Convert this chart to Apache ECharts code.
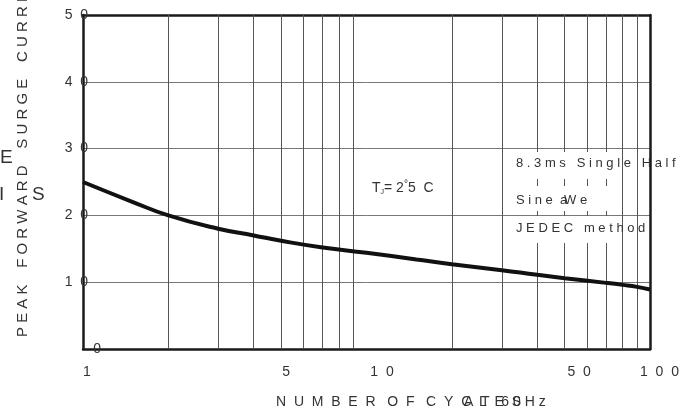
<!DOCTYPE html>
<html>
<head>
<meta charset="utf-8">
<script src="https://cdn.jsdelivr.net/npm/echarts@6/dist/echarts.min.js"></script>
<style>html,body{margin:0;padding:0;background:#fff}#c{width:690px;height:414px}</style>
</head>
<body>
<div id="c"></div>
<script>
// Data
const cycles = [1, 1.5, 2, 3, 4, 5, 7, 10, 15, 20, 30, 40, 50, 70, 80, 90, 100];
const current = [25, 22, 20, 18, 17, 16.2, 15.2, 14.4, 13.4, 12.7, 11.8, 11.1, 10.6, 9.9, 9.6, 9.3, 8.9];
const xTickLabels = [1, 5, 10, 50, 100];
const yTickLabels = [0, 10, 20, 30, 40, 50];
const xGridValues = [2, 3, 4, 5, 6, 7, 8, 9, 20, 30, 40, 50, 60, 70, 80, 90];

// letter-spaced text helper (styling only)
const spaced = v => String(v).split('').join('  ');
const FONT = '"Liberation Sans", Arial, sans-serif';
const TXT = '#333';
// per-label horizontal nudge (styling) for x tick labels
const xLabelPad = {1: 8, 5: 10, 10: 31, 50: 29, 100: 19};
const xRich = {};
xTickLabels.forEach(v => {
  xRich['p' + v] = {color: TXT, fontSize: 14, fontFamily: FONT, padding: [0, 0, 0, xLabelPad[v]]};
});

const chart = echarts.init(document.getElementById('c'), null, {renderer: 'canvas'});
chart.setOption({
  animation: false,
  backgroundColor: '#fff',
  grid: {left: 83, right: 40, top: 15, bottom: 65},
  xAxis: [{
    type: 'log', logBase: 10, min: 1, max: 100,
    axisLine: {show: true, lineStyle: {color: '#1a1a1a', width: 2.5}},
    axisTick: {show: false},
    splitLine: {show: false},
    minorTick: {show: false},
    axisLabel: {
      customValues: xTickLabels,
      formatter: v => '{p' + v + '|' + spaced(v) + '}',
      rich: xRich,
      color: TXT, fontSize: 14, fontFamily: FONT, margin: 16
    }
  }, {
    type: 'log', logBase: 10, min: 1, max: 100, position: 'top',
    axisLine: {show: true, onZero: false, lineStyle: {color: '#1a1a1a', width: 2.5}},
    axisTick: {show: false}, axisLabel: {show: false}, splitLine: {show: false}
  }],
  yAxis: [{
    type: 'value', min: yTickLabels[0], max: yTickLabels[yTickLabels.length - 1], interval: 10,
    axisLine: {show: true, lineStyle: {color: '#1a1a1a', width: 2.5}},
    axisTick: {show: false},
    splitLine: {show: true, lineStyle: {color: '#777', width: 1}},
    axisLabel: {
      color: TXT, fontSize: 14, fontFamily: FONT, margin: -18,
      formatter: v => v === 0 ? '{z|0}' : '{n|' + spaced(v) + '}',
      rich: {
        z: {color: TXT, fontSize: 14, fontFamily: FONT},
        n: {color: TXT, fontSize: 14, fontFamily: FONT, padding: [0, 13, 0, 0]}
      }
    }
  }, {
    type: 'value', min: 0, max: 50, position: 'right',
    axisLine: {show: true, onZero: false, lineStyle: {color: '#1a1a1a', width: 2.5}},
    axisTick: {show: false}, axisLabel: {show: false}, splitLine: {show: false}
  }],
  series: [{
    type: 'line',
    data: cycles.map((c, i) => [c, current[i]]),
    smooth: true,
    showSymbol: false,
    lineStyle: {color: '#111', width: 4},
    z: 5,
    markLine: {
      silent: true,
      symbol: ['none', 'none'],
      label: {show: false},
      lineStyle: {color: '#555', width: 1, type: 'solid'},
      data: xGridValues.map(v => ({xAxis: v}))
    }
  }],
  graphic: [
    // white boxes behind annotations
    {type: 'rect', shape: {x: 362, y: 172, width: 84, height: 28}, style: {fill: '#fff'}, z: 10},
    {type: 'rect', shape: {x: 505, y: 152, width: 110, height: 27}, style: {fill: '#fff'}, z: 10},
    {type: 'rect', shape: {x: 505, y: 186, width: 110, height: 25}, style: {fill: '#fff'}, z: 10},
    {type: 'rect', shape: {x: 505, y: 216, width: 110, height: 27}, style: {fill: '#fff'}, z: 10},
    {type: 'text', x: 372, y: 188, z: 20, style: {
      text: '{t|T}{s|J}{n|= 2}{d|°}{n|5  C}', verticalAlign: 'middle',
      rich: {
        t: {fontSize: 14, fontFamily: FONT, fill: TXT},
        s: {fontSize: 7, fontFamily: FONT, fill: TXT, padding: [9, 0, 0, 0]},
        n: {fontSize: 14, fontFamily: FONT, fill: TXT},
        d: {fontSize: 10, fontFamily: FONT, fill: TXT, padding: [0, 0, 8, 0]}
      }
    }},
    {type: 'text', x: 516, y: 163, z: 20, style: {text: '8 . 3 m s   S i n g l e   H a l f', font: '13px ' + FONT, fill: TXT, verticalAlign: 'middle'}},
    {type: 'text', x: 516, y: 200, z: 20, style: {text: 'S i n e  a', font: '13px ' + FONT, fill: TXT, verticalAlign: 'middle'}},
    {type: 'text', x: 564, y: 200, z: 20, style: {text: 'W e', font: '13px ' + FONT, fill: TXT, verticalAlign: 'middle'}},
    {type: 'text', x: 516, y: 228, z: 20, style: {text: 'J E D E C   m e t h o d', font: '13px ' + FONT, fill: TXT, verticalAlign: 'middle'}},
    // y-axis title (runs off the top like the reference)
    {type: 'text', x: 23, y: 337, rotation: Math.PI / 2, z: 20, style: {
      text: 'P E A K    F O R W A R D    S U R G E    C U R R E N T', font: '15px ' + FONT, fill: TXT,
      align: 'left', verticalAlign: 'middle'
    }},
    {type: 'text', x: 0, y: 158, z: 20, style: {text: 'E', font: '19px ' + FONT, fill: TXT, verticalAlign: 'middle'}},
    {type: 'text', x: -1, y: 195, z: 20, style: {text: 'I', font: '19px ' + FONT, fill: TXT, verticalAlign: 'middle'}},
    {type: 'text', x: 32, y: 195, z: 20, style: {text: 'S', font: '19px ' + FONT, fill: TXT, verticalAlign: 'middle'}},
    // x-axis title
    {type: 'text', x: 276, y: 402, z: 20, style: {text: 'N  U  M  B  E  R   O  F   C  Y  C  L  E  S', font: '14px ' + FONT, fill: TXT, verticalAlign: 'middle'}},
    {type: 'text', x: 464, y: 402, z: 20, style: {text: 'A  T   6 0 H z', font: '14px ' + FONT, fill: TXT, verticalAlign: 'middle'}}
  ]
});
</script>
</body>
</html>
